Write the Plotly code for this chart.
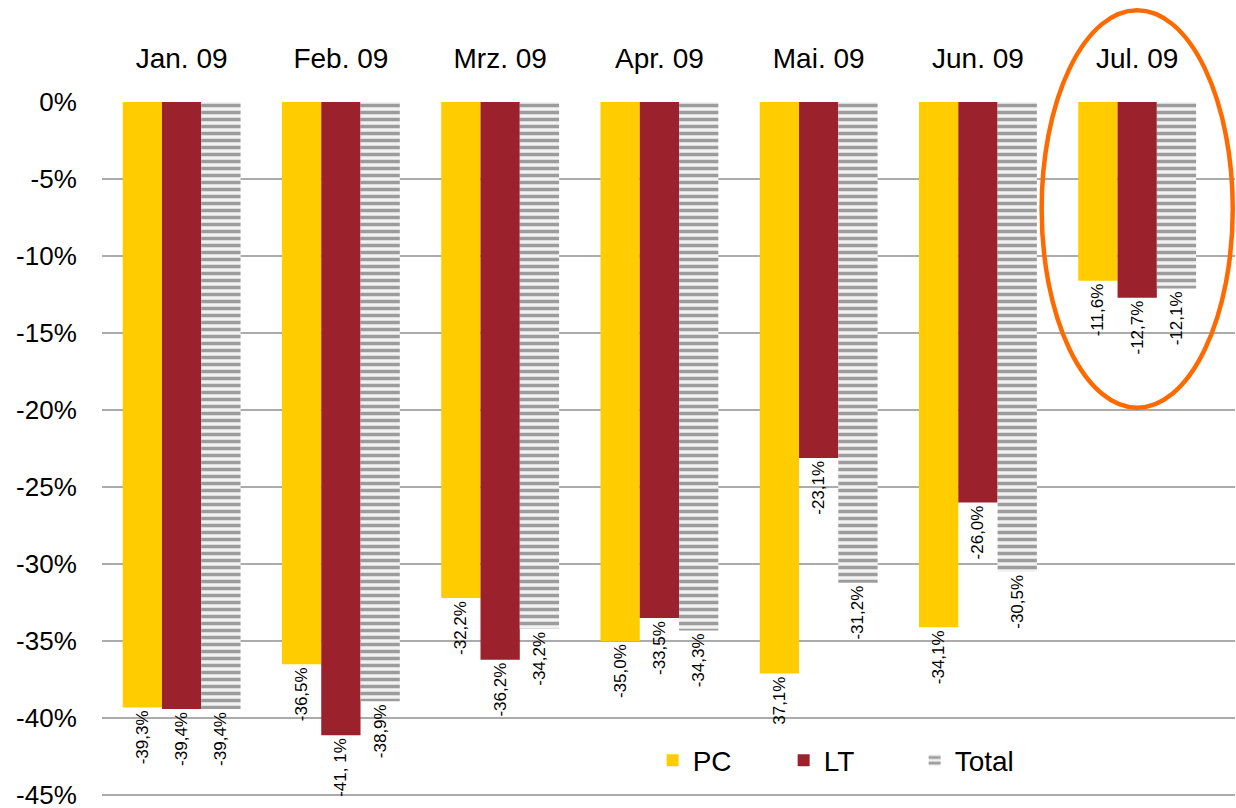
import plotly.graph_objects as go

months = ["Jan. 09", "Feb. 09", "Mrz. 09", "Apr. 09", "Mai. 09", "Jun. 09", "Jul. 09"]
pc = [-39.3, -36.5, -32.2, -35.0, -37.1, -34.1, -11.6]
lt = [-39.4, -41.1, -36.2, -33.5, -23.1, -26.0, -12.7]
total = [-39.4, -38.9, -34.2, -34.3, -31.2, -30.5, -12.1]
pc_text = ["-39,3%", "-36,5%", "-32,2%", "-35,0%", "37,1%", "-34,1%", "-11,6%"]
lt_text = ["-39,4%", "-41, 1%", "-36,2%", "-33,5%", "-23,1%", "-26,0%", "-12,7%"]
total_text = ["-39,4%", "-38,9%", "-34,2%", "-34,3%", "-31,2%", "-30,5%", "-12,1%"]
y_ticks = [0, -5, -10, -15, -20, -25, -30, -35, -40, -45]
y_tick_labels = ["0%", "-5%", "-10%", "-15%", "-20%", "-25%", "-30%", "-35%", "-40%", "-45%"]

FONT = "Liberation Sans, Arial, sans-serif"
label_font = dict(family=FONT, size=17, color="black")

fig = go.Figure()
fig.add_bar(x=months, y=pc, name="PC", marker=dict(color="#FFCC00", line=dict(width=0)),
            text=pc_text, textposition="outside", textangle=-90, textfont=label_font,
            constraintext="none", cliponaxis=False)
fig.add_bar(x=months, y=lt, name="LT", marker=dict(color="#9B222D", line=dict(width=0)),
            text=lt_text, textposition="outside", textangle=-90, textfont=label_font,
            constraintext="none", cliponaxis=False)
fig.add_bar(x=months, y=total, name="Total",
            marker=dict(color="white", line=dict(width=0),
                        pattern=dict(shape="-", fgcolor="#9C9C9C", bgcolor="#F2F2F2",
                                     size=7, solidity=0.5, fillmode="replace")),
            text=total_text, textposition="outside", textangle=-90, textfont=label_font,
            constraintext="none", cliponaxis=False)

# ellipse around July, in paper y relative to the plot area (0 = -45.5 %, 1 = 0 %)
fig.add_shape(type="circle", xref="x", yref="paper", x0=5.4, x1=6.6, y0=0.564, y1=1.131,
              line=dict(color="#FF6A00", width=4.5), layer="above")

fig.update_layout(
    width=1236, height=808,
    margin=dict(l=102, r=1, t=102, b=5, autoexpand=False),
    paper_bgcolor="white", plot_bgcolor="white",
    barmode="group", bargap=0.26, bargroupgap=0,
    font=dict(family=FONT, color="black"),
    showlegend=True,
    legend=dict(orientation="h", x=0.486, y=0.0605, xanchor="left", yanchor="middle",
                font=dict(family=FONT, size=28, color="black"),
                bgcolor="rgba(0,0,0,0)", entrywidth=86, entrywidthmode="pixels",
                traceorder="normal"),
    xaxis=dict(type="category", side="top", showline=False, showgrid=False,
               ticks="outside", ticklen=22, tickcolor="rgba(0,0,0,0)", automargin=False,
               tickfont=dict(family=FONT, size=28, color="black"), zeroline=False),
    yaxis=dict(range=[-45.5, 0], tickvals=y_ticks, ticktext=y_tick_labels,
               showgrid=True, gridcolor="#ABABAB", gridwidth=1.5, zeroline=False,
               showline=False, ticks="outside", ticklen=19, tickcolor="rgba(0,0,0,0)",
               ticklabeloverflow="allow", automargin=False,
               tickfont=dict(family=FONT, size=26, color="black")),
)

fig.write_html("out.html", config={"displayModeBar": False},
               post_script="document.body.style.margin='0';")
